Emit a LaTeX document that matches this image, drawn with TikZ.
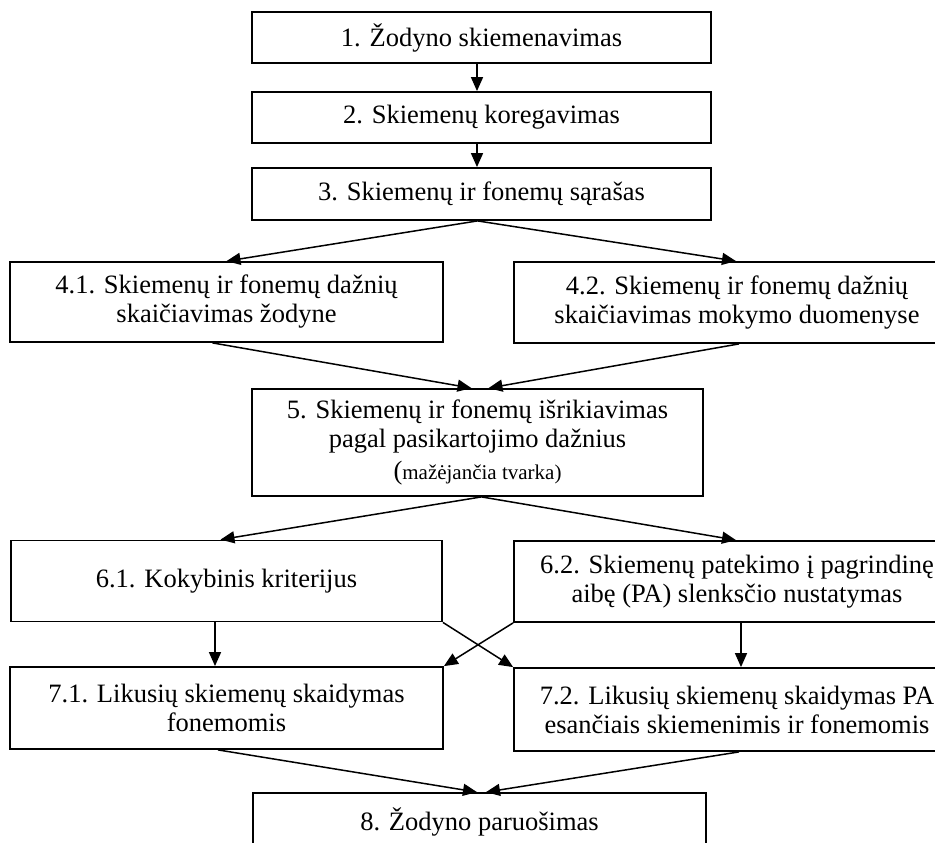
\documentclass[tikz,border=0pt]{standalone}
\usepackage{fontspec}
\setmainfont{Liberation Serif}
\usetikzlibrary{arrows.meta}
\begin{document}
\begin{tikzpicture}[x=1pt,y=-1pt,
  box/.style={draw, line width=1.8pt, inner sep=0pt, align=center, font=\fontsize{26.5}{29}\selectfont, anchor=center},
  arr/.style={line width=1.5pt, -{Triangle[length=14pt,width=12pt]}}]
\clip (0,0) rectangle (935,843);
\fill[white] (0,0) rectangle (935,843);
\node[box, minimum width=459pt, minimum height=51pt] (b1) at (481.5,37.5) {1. Žodyno skiemenavimas};
\node[box, minimum width=459pt, minimum height=51pt] (b2) at (481.5,117.5) {2. Skiemenų koregavimas};
\node[box, minimum width=459pt, minimum height=52pt] (b3) at (481.5,194) {3. Skiemenų ir fonemų sąrašas};
\node[box, minimum width=433pt, minimum height=80pt] (b41) at (226.5,302) {4.1. Skiemenų ir fonemų dažnių\\skaičiavimas žodyne};
\node[box, minimum width=446pt, minimum height=81pt] (b42) at (737,302.5) {4.2. Skiemenų ir fonemų dažnių\\skaičiavimas mokymo duomenyse};
\node[box, minimum width=451pt, minimum height=107pt] (b5) at (477.5,442.5) {5. Skiemenų ir fonemų išrikiavimas\\pagal pasikartojimo dažnius\\[3pt]({\fontsize{21}{24}\selectfont mažėjančia tvarka)}\rule[-6pt]{0pt}{6pt}};
\node[box, minimum width=431pt, minimum height=81pt] (b61) at (226.5,581) {6.1. Kokybinis kriterijus};
\node[box, minimum width=446pt, minimum height=81pt] (b62) at (737,581.5) {6.2. Skiemenų patekimo į pagrindinę\\aibę (PA) slenksčio nustatymas};
\node[box, minimum width=433pt, minimum height=82pt] (b71) at (226.5,708) {7.1. Likusių skiemenų skaidymas\\fonemomis};
\node[box, minimum width=446pt, minimum height=83pt] (b72) at (737,709.5) {7.2. Likusių skiemenų skaidymas PA\\esančiais skiemenimis ir fonemomis};
\node[box, minimum width=453pt, minimum height=57pt] (b8) at (479.5,821.5) {8. Žodyno paruošimas};
\draw[arr] ([xshift=-4.5pt]b1.south) -- ([xshift=-4.5pt]b2.north);
\draw[arr] ([xshift=-4.5pt]b2.south) -- ([xshift=-4.5pt]b3.north);
\draw[arr] ([xshift=-4pt]b3.south) -- (b41.north);
\draw[arr] ([xshift=-4pt]b3.south) -- ([xshift=-1pt]b42.north);
\draw[arr] ([xshift=-14pt]b41.south) -- ([xshift=-6pt]b5.north);
\draw[arr] ([xshift=2pt]b42.south) -- ([xshift=11pt]b5.north);
\draw[arr] ([xshift=4pt]b5.south) -- ([xshift=-6pt]b61.north);
\draw[arr] ([xshift=4pt]b5.south) -- ([xshift=-1pt]b62.north);
\draw[arr] ([xshift=-11.5pt]b61.south) -- ([xshift=-11.5pt]b71.north);
\draw[arr] ([xshift=4pt]b62.south) -- ([xshift=4pt]b72.north);
\draw[arr] (b61.south east) -- (b72.north west);
\draw[arr] (b62.south west) -- (b71.north east);
\draw[arr] ([xshift=-8.5pt]b71.south) -- ([xshift=-2.5pt]b8.north);
\draw[arr] ([xshift=2pt]b72.south) -- ([xshift=6.5pt]b8.north);
\end{tikzpicture}
\end{document}
